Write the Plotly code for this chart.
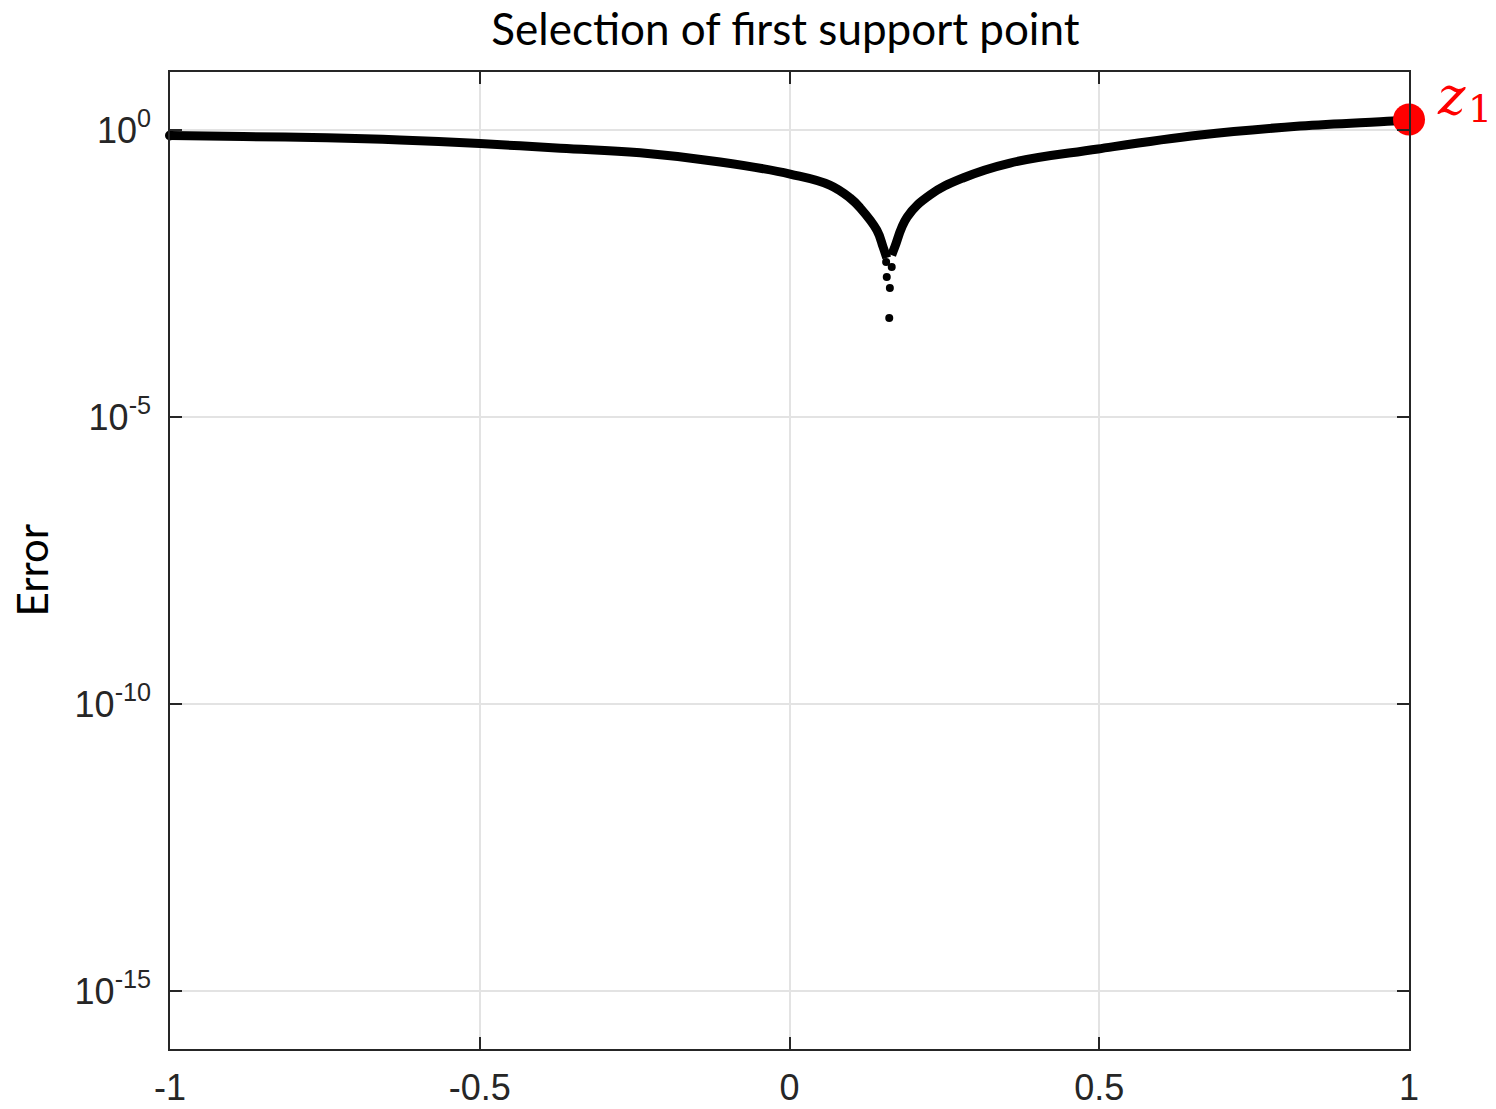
import plotly.graph_objects as go

# Left branch of the error curve
left_x = [-1.000, -0.882, -0.747, -0.629, -0.500, -0.370, -0.241, -0.112,
          0.001, 0.065, 0.098, 0.114, 0.141, 0.151, 0.157]
left_y = [0.80, 0.77, 0.73, 0.67, 0.58, 0.48, 0.40, 0.277,
          0.171, 0.110, 0.065, 0.044, 0.018, 0.0092, 0.0059]

# Right branch of the error curve
right_x = [0.165, 0.170, 0.190, 0.227, 0.280, 0.356, 0.498, 0.663, 0.824, 0.974, 1.000]
right_y = [0.0066, 0.0092, 0.0305, 0.074, 0.146, 0.266, 0.467, 0.818, 1.17, 1.44, 1.52]

# Isolated samples near the dip
dip_x = [0.156, 0.165, 0.157, 0.162, 0.161]
dip_y = [0.0050, 0.0041, 0.00275, 0.00177, 0.00053]

# First support point
z1_x = [1.0]
z1_y = [1.52]

x_tick_vals = [-1, -0.5, 0, 0.5, 1]
x_tick_text = ["-1", "-0.5", "0", "0.5", "1"]
y_tick_vals = [1e0, 1e-5, 1e-10, 1e-15]
y_tick_text = ["10<sup>0</sup>", "10<sup>-5</sup>", "10<sup>-10</sup>", "10<sup>-15</sup>"]

fig = go.Figure()
fig.add_trace(go.Scatter(x=left_x, y=left_y, mode="lines",
                         line=dict(color="black", width=9, shape="spline", smoothing=1.2),
                         showlegend=False))
fig.add_trace(go.Scatter(x=right_x, y=right_y, mode="lines",
                         line=dict(color="black", width=9, shape="spline", smoothing=1.2),
                         showlegend=False))
fig.add_trace(go.Scatter(x=dip_x, y=dip_y, mode="markers",
                         marker=dict(color="black", size=8), showlegend=False))
fig.add_trace(go.Scatter(x=[left_x[0]], y=[left_y[0]], mode="markers",
                         marker=dict(color="black", size=10), showlegend=False,
                         cliponaxis=False))
fig.add_trace(go.Scatter(x=z1_x, y=z1_y, mode="markers",
                         marker=dict(color="#ff0000", size=32), showlegend=False,
                         cliponaxis=False))

axis_common = dict(showline=True, linecolor="#262626", linewidth=1.5, mirror="ticks",
                   ticks="inside", ticklen=12, tickwidth=1.5, tickcolor="#262626",
                   showgrid=True, gridcolor="#e3e3e3", gridwidth=2, zeroline=False,
                   automargin=False,
                   tickfont=dict(family="Liberation Sans, Arial", size=36, color="#262626"))

fig.update_xaxes(range=[-1, 1], tickmode="array", tickvals=x_tick_vals, ticktext=x_tick_text,
                 ticklabelstandoff=6, **axis_common)
fig.update_yaxes(type="log", range=[-16.0105, 1.0105], tickmode="array",
                 tickvals=y_tick_vals, ticktext=y_tick_text, ticklabelstandoff=10, **axis_common)

fig.update_layout(
    width=1496, height=1109,
    margin=dict(l=170, r=87, t=72, b=60, autoexpand=False),
    paper_bgcolor="white", plot_bgcolor="white",
    title=dict(text="Selection of first support point", x=0.525, xanchor="center",
               y=1 - 30 / 1109, yanchor="middle", yref="container", automargin=False,
               font=dict(family="Lato", size=44, color="black")),
    annotations=[
        dict(text="Error", xref="paper", yref="paper", x=0, y=0.5, xanchor="center",
             yanchor="middle", xshift=-139, yshift=-10, textangle=-90, showarrow=False,
             font=dict(family="Lato", size=42, color="black")),
        dict(text="<i>z</i>", xref="x", yref="y", x=1, y=0.6,
             xanchor="left", yanchor="middle", xshift=26, showarrow=False,
             font=dict(family="DejaVu Serif", size=52, color="#ff0000")),
        dict(text="1", xref="x", yref="y", x=1, y=0.36,
             xanchor="left", yanchor="middle", xshift=57, showarrow=False,
             font=dict(family="DejaVu Serif", size=38, color="#ff0000")),
    ],
)

fig.write_html("out.html")
